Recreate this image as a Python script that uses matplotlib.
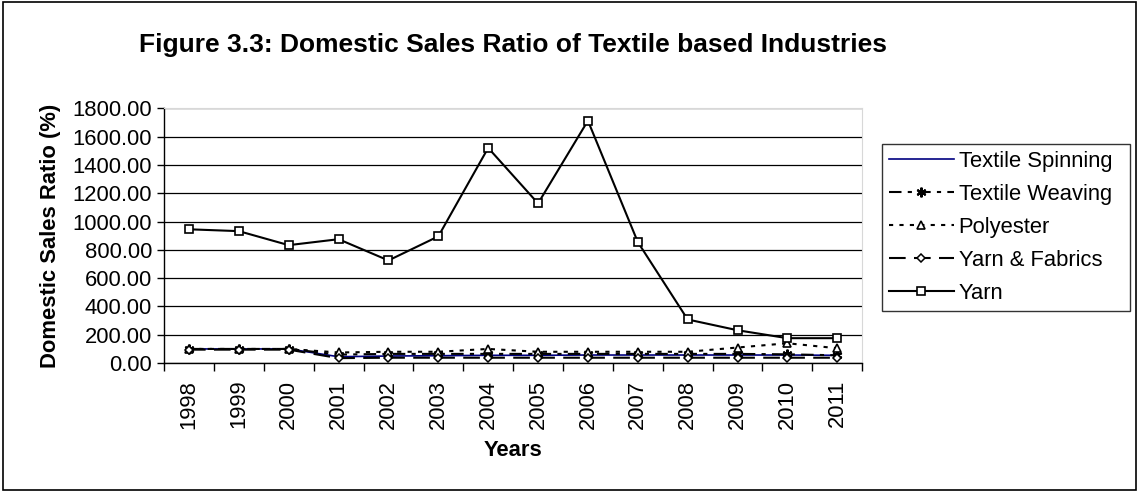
import matplotlib
matplotlib.use('Agg')
import matplotlib.pyplot as plt
from matplotlib.patches import Rectangle

plt.rcParams['font.family'] = ['Liberation Sans', 'DejaVu Sans']

years = ['1998', '1999', '2000', '2001', '2002', '2003', '2004',
         '2005', '2006', '2007', '2008', '2009', '2010', '2011']

spinning = [100, 100, 100, 45, 50, 52, 55, 55, 57, 57, 57, 57, 57, 55]
weaving = [100, 100, 100, 60, 65, 65, 65, 65, 65, 65, 65, 65, 62, 55]
polyester = [100, 100, 100, 75, 80, 80, 100, 80, 80, 80, 80, 110, 140, 105]
yarn_fabrics = [95, 95, 95, 35, 38, 38, 38, 38, 38, 38, 38, 38, 38, 38]
yarn = [945, 932, 833, 875, 725, 895, 1520, 1128, 1712, 855, 308, 232, 176, 176]

fig = plt.figure(figsize=(11.39, 4.92), dpi=100)
ax = fig.add_axes([0.144, 0.262, 0.613, 0.518])

x = range(len(years))
ax.plot(x, spinning, color='#000080', lw=1.2, label='Textile Spinning')
ax.plot(x, weaving, color='black', lw=1.5, dashes=(6, 3, 2, 3),
        marker=(6, 2, 0), ms=7, mew=1.5, label='Textile Weaving')
ax.plot(x, polyester, color='black', lw=1.5, ls=(0, (2, 3)),
        marker='^', ms=6, mfc='white', mec='black', mew=1.2, label='Polyester')
ax.plot(x, yarn_fabrics, color='black', lw=1.5, dashes=(8, 4),
        marker='D', ms=4, mfc='white', mec='black', mew=1.1, label='Yarn & Fabrics')
ax.plot(x, yarn, color='black', lw=1.5,
        marker='s', ms=6, mfc='white', mec='black', mew=1.2, label='Yarn')

ax.set_xlim(-0.5, len(years) - 0.5)
ax.set_ylim(0, 1800)
ax.set_yticks(range(0, 1801, 200))
ax.set_yticklabels(['%.2f' % v for v in range(0, 1801, 200)], fontsize=15.8)
ax.set_xticks(list(x))
ax.set_xticklabels(years, rotation=90, fontsize=15.8)
ax.set_xticks([i - 0.5 for i in range(len(years) + 1)], minor=True)
ax.tick_params(axis='x', which='major', length=0, pad=12)
ax.tick_params(axis='x', which='minor', length=6, width=1, direction='out')
ax.tick_params(axis='y', length=5, width=1, direction='out')
ax.yaxis.grid(True, color='black', lw=0.9)
ax.set_axisbelow(True)

for side in ['top', 'right']:
    ax.spines[side].set_color('#d8d8d8')
    ax.spines[side].set_linewidth(0.8)
for side in ['left', 'bottom']:
    ax.spines[side].set_color('black')
    ax.spines[side].set_linewidth(1)

ax.set_xlabel('Years', fontsize=15.8, fontweight='bold', labelpad=8)
ax.set_ylabel('Domestic Sales Ratio (%)', fontsize=15.8, fontweight='bold', labelpad=8)

fig.text(0.45, 0.909, 'Figure 3.3: Domestic Sales Ratio of Textile based Industries',
         ha='center', va='center', fontsize=19, fontweight='bold')

# legend box sits to the right of the plot area
leg = ax.legend(loc='upper left', bbox_to_anchor=(0.7743, 0.335, 0.2177, 0.372),
                bbox_transform=fig.transFigure, mode='expand', fontsize=15.8,
                frameon=True, fancybox=False, handlelength=3.0, handletextpad=0.2,
                labelspacing=0.55, borderaxespad=0, borderpad=0.3)
leg.get_frame().set_edgecolor('black')
leg.get_frame().set_linewidth(1)

fig.patches.append(Rectangle((0.003, 0.005), 0.994, 0.99, transform=fig.transFigure,
                             fill=False, edgecolor='black', lw=1.2))

plt.savefig('out.png', dpi=100)
